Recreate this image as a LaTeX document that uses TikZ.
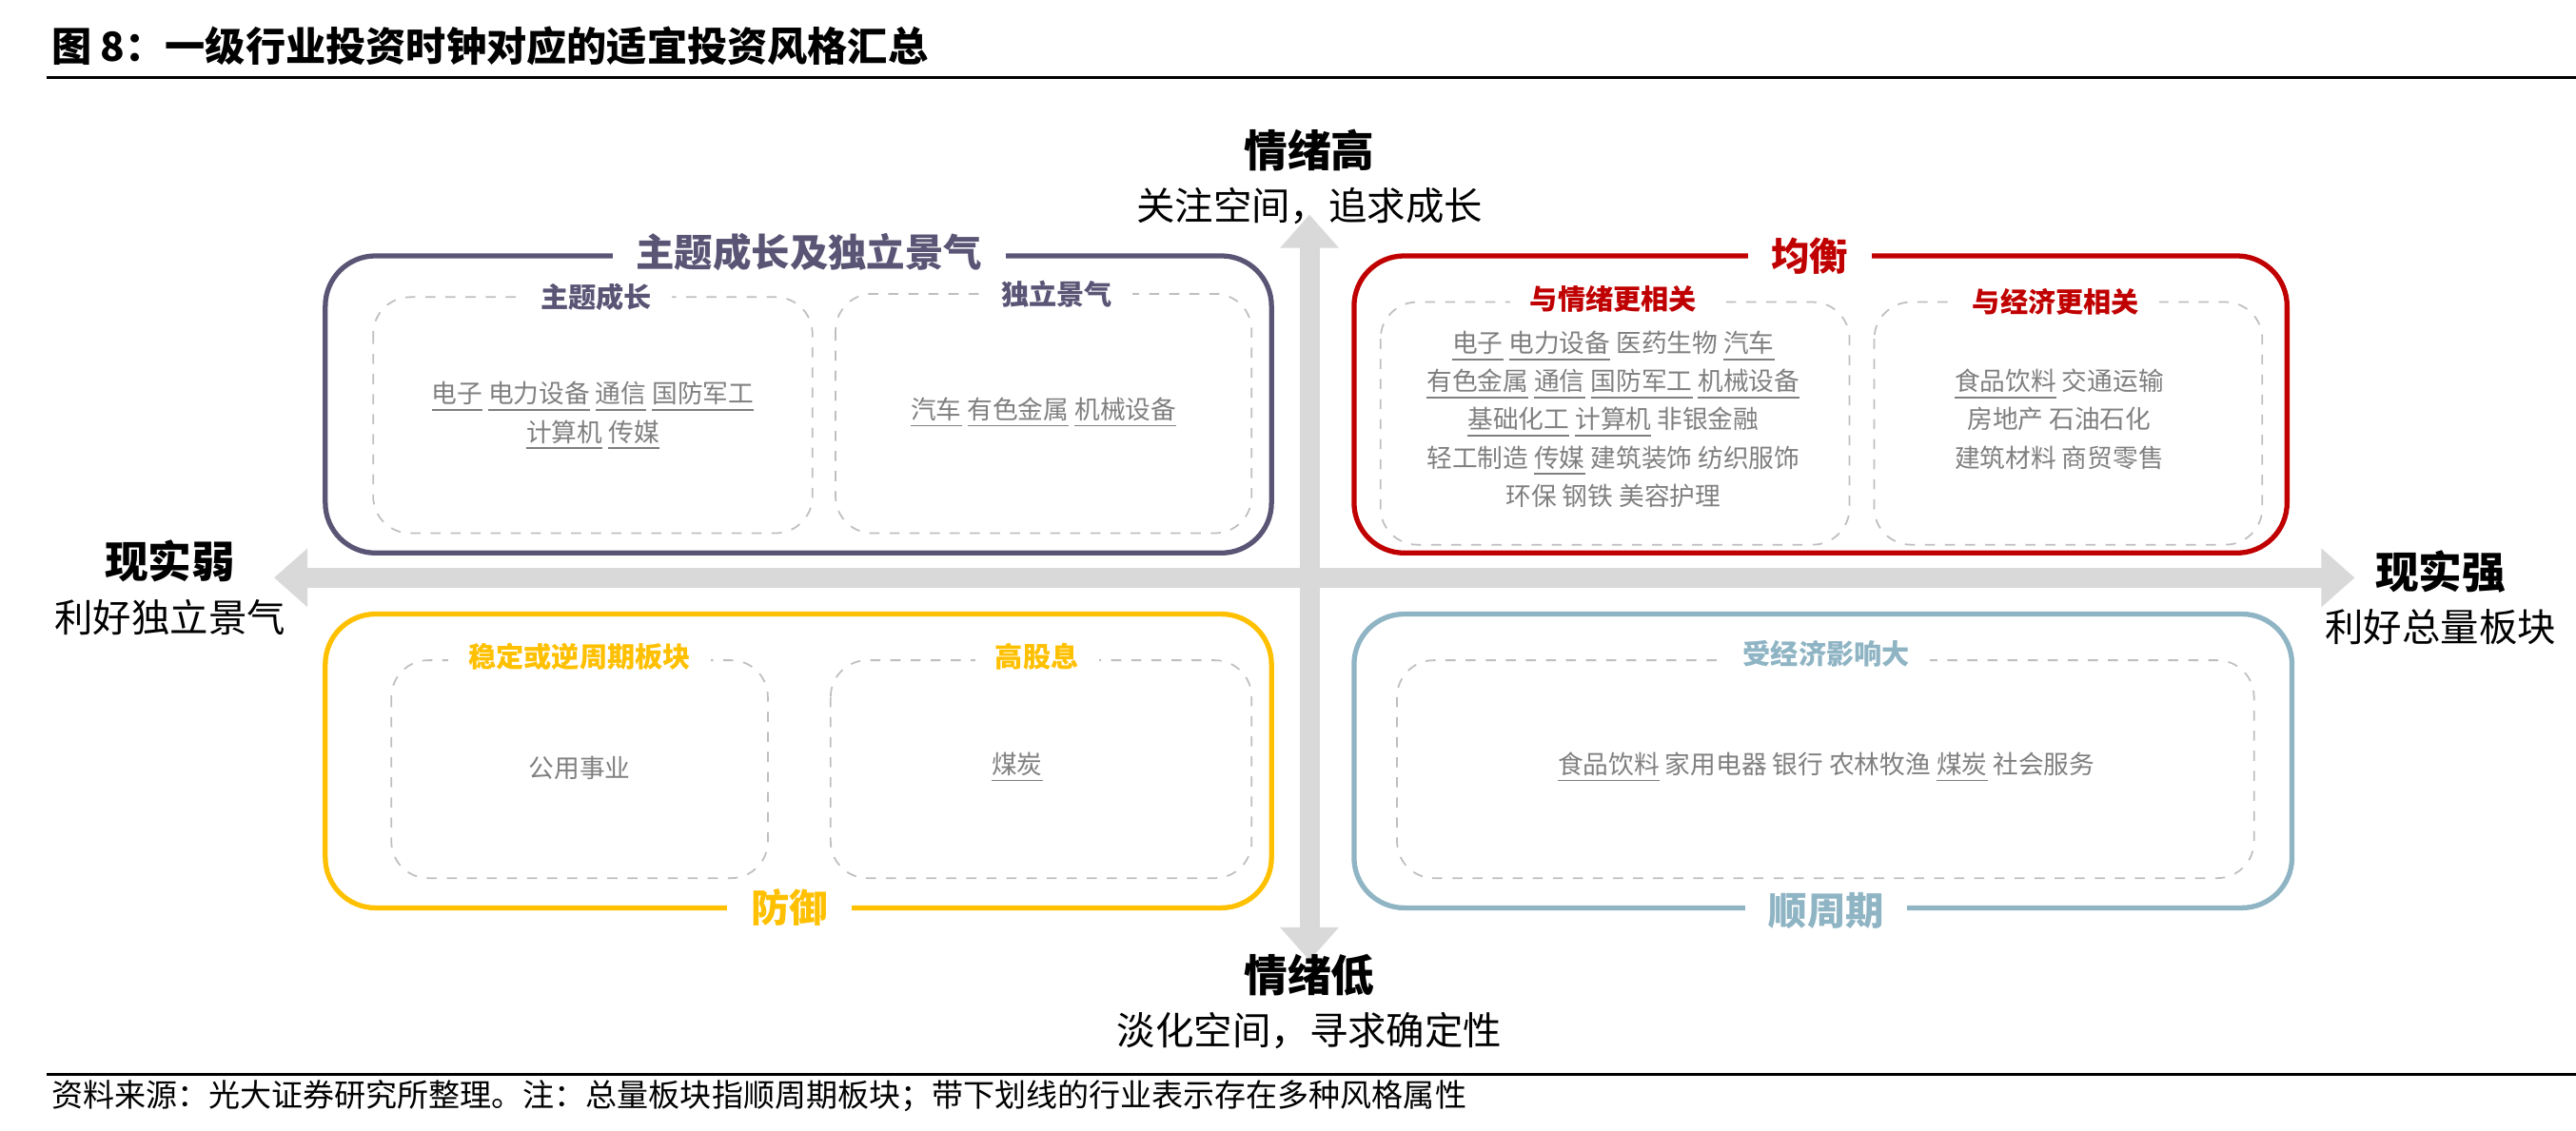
\documentclass[tikz,border=0pt]{standalone}
\usepackage{fontspec}
\setmainfont{Noto Sans CJK SC}
\usetikzlibrary{arrows.meta}
\definecolor{pur}{HTML}{5A5475}
\definecolor{red1}{HTML}{C00000}
\definecolor{yel}{HTML}{FFC000}
\definecolor{blu}{HTML}{8FB4C4}
\definecolor{itm}{HTML}{7F7F7F}
\definecolor{axg}{HTML}{D9D9D9}
\newcommand\ux[1]{\underline{#1}}
\tikzset{
 outer/.style={draw=#1,line width=1.5pt,rounded corners=15pt},
 inner/.style={draw=gray!50,dashed,line width=0.5pt,rounded corners=11pt},
 otitle/.style={fill=white,inner xsep=7pt,text=#1,font=\fontsize{11.5}{12}\selectfont\bfseries},
 ititle/.style={fill=white,inner xsep=6pt,text=#1,font=\fontsize{8.3}{9}\selectfont\bfseries},
 items/.style={text=itm,align=center,font=\fontsize{7.6}{11.4}\selectfont},
 axlab/.style={align=center,font=\fontsize{11.5}{16}\selectfont},
 axis/.style={line width=6pt,draw=axg,-{Triangle[length=10pt,width=17pt]}}
}
\begin{document}
\begin{tikzpicture}[x=0.01735cm,y=-0.01735cm]
\useasboundingbox (0,0) rectangle (1560,685);
\node[anchor=west,font=\fontsize{12}{13}\selectfont\bfseries] (t) at (24,28) {图 8：一级行业投资时钟对应的适宜投资风格汇总};
\draw[line width=1pt] (28,47) -- (1560,47);
\draw[line width=1pt] (28,651) -- (1560,651);
\node[anchor=west,font=\fontsize{9.4}{10}\selectfont] (src) at (24,664) {资料来源：光大证券研究所整理。注：总量板块指顺周期板块；带下划线的行业表示存在多种风格属性};
% axes
\coordinate (c) at (793,350);
\coordinate (top) at (793,130);
\coordinate (bot) at (793,582);
\coordinate (lft) at (166,350);
\coordinate (rgt) at (1426,350);
\draw[axis] (c) -- (top);
\draw[axis] (c) -- (bot);
\draw[axis] (c) -- (lft);
\draw[axis] (c) -- (rgt);
\node[axlab] (n1) at (793,107) {\textbf{\fontsize{13}{15}\selectfont 情绪高}\\关注空间，追求成长};
\node[axlab] (n2) at (793,607) {\textbf{\fontsize{13}{15}\selectfont 情绪低}\\淡化空间，寻求确定性};
\node[axlab] (n3) at (103,356) {\textbf{\fontsize{13}{15}\selectfont 现实弱}\\利好独立景气};
\node[axlab] (n4) at (1478,362) {\textbf{\fontsize{13}{15}\selectfont 现实强}\\利好总量板块};
% TL
\draw[outer=pur] (197,155) rectangle (770,335);
\node[otitle=pur] (tl) at (490,153) {主题成长及独立景气};
\draw[inner] (226,180) rectangle (492,323);
\node[ititle=pur] (tl1) at (361,180) {主题成长};
\draw[inner] (506,178) rectangle (758,323);
\node[ititle=pur] (tl2) at (640,178) {独立景气};
\node[items] (tli) at (359,252) {\ux{电子} \ux{电力设备} \ux{通信} \ux{国防军工}\\\ux{计算机} \ux{传媒}};
\node[items] (tli2) at (632,250) {\ux{汽车} \ux{有色金属} \ux{机械设备}};
% TR
\draw[outer=red1] (820,155) rectangle (1385,335);
\node[otitle=red1] (tr) at (1096,155) {均衡};
\draw[inner] (836,183) rectangle (1120,330);
\node[ititle=red1] (tr1) at (977,181) {与情绪更相关};
\draw[inner] (1135,183) rectangle (1370,330);
\node[ititle=red1] (tr2) at (1245,183) {与经济更相关};
\node[items] (tri) at (977,254) {\ux{电子} \ux{电力设备} 医药生物 \ux{汽车}\\\ux{有色金属} \ux{通信} \ux{国防军工} \ux{机械设备}\\\ux{基础化工} \ux{计算机} 非银金融\\轻工制造 \ux{传媒} 建筑装饰 纺织服饰\\环保 钢铁 美容护理};
\node[items] (tri2) at (1247,254) {\ux{食品饮料} 交通运输\\房地产 石油石化\\建筑材料 商贸零售};
% BL
\draw[outer=yel] (197,372) rectangle (770,550);
\node[otitle=yel] (bl) at (478,550) {防御};
\draw[inner] (237,400) rectangle (465,532);
\node[ititle=yel] (bl1) at (351,398) {稳定或逆周期板块};
\draw[inner] (503,400) rectangle (758,532);
\node[ititle=yel] (bl2) at (628,398) {高股息};
\node[items] (bli) at (351,465) {公用事业};
\node[items] (bli2) at (616,465) {\ux{煤炭}};
% BR
\draw[outer=blu] (820,372) rectangle (1388,550);
\node[otitle=blu] (br) at (1106,552) {顺周期};
\draw[inner] (846,400) rectangle (1365,532);
\node[ititle=blu] (br1) at (1106,396) {受经济影响大};
\node[items] (bri) at (1106,465) {\ux{食品饮料} 家用电器 银行 农林牧渔 \ux{煤炭} 社会服务};
\end{tikzpicture}
\end{document}
